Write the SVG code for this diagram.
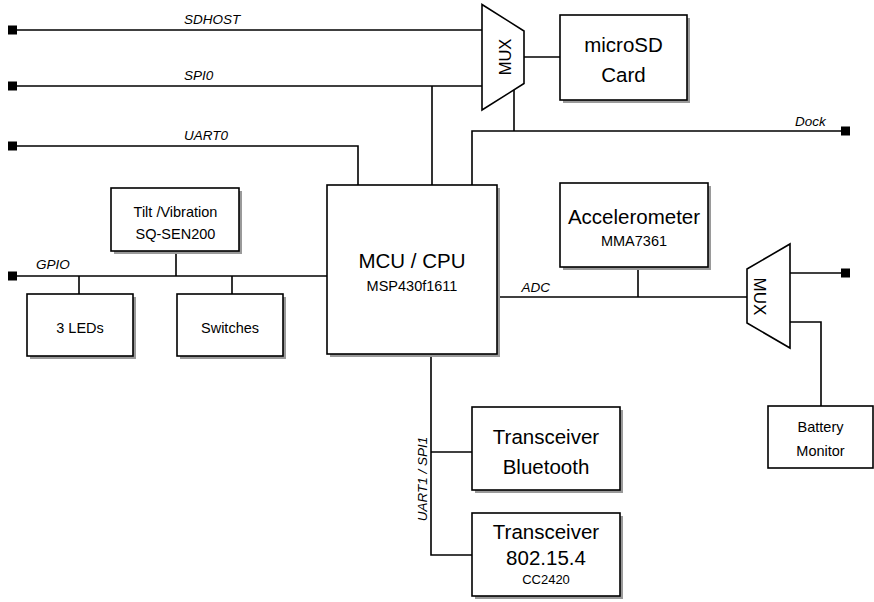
<svg xmlns="http://www.w3.org/2000/svg" width="874" height="602" viewBox="0 0 874 602">
<style>
.box{fill:#fff;stroke:#000;stroke-width:1.6}
.sh{fill:#9a9a9a}
.ln{fill:none;stroke:#000;stroke-width:1.6}
.t{font-family:"Liberation Sans",Arial,sans-serif;fill:#000;text-anchor:middle}
.big{font-size:20.5px}
.mid{font-size:14.5px}
.lbl{font-family:"Liberation Sans",Arial,sans-serif;font-style:italic;font-size:13.5px;fill:#000}
.pin{fill:#000}
</style>
<rect width="874" height="602" fill="#fff"/>
<g id="connectors">
<path class="ln" d="M13,30H482"/>
<path class="ln" d="M13,86H482"/>
<path class="ln" d="M432,86V185"/>
<path class="ln" d="M13,146H358V185"/>
<path class="ln" d="M524,57H560"/>
<path class="ln" d="M514,89V131"/>
<path class="ln" d="M472,185V131H845"/>
<path class="ln" d="M13,276H327"/>
<path class="ln" d="M176,251V276"/>
<path class="ln" d="M79,276V294"/>
<path class="ln" d="M232,276V294"/>
<path class="ln" d="M497,297H747"/>
<path class="ln" d="M638,267V297"/>
<path class="ln" d="M790,273H845"/>
<path class="ln" d="M790,322H821V406"/>
<path class="ln" d="M431,354V555H472"/>
<path class="ln" d="M431,452H472"/>
<rect class="pin" x="8" y="25.5" width="9" height="9"/>
<rect class="pin" x="8" y="81.5" width="9" height="9"/>
<rect class="pin" x="8" y="141.5" width="9" height="9"/>
<rect class="pin" x="8" y="271.5" width="9" height="9"/>
<rect class="pin" x="841" y="126.5" width="9" height="9"/>
<rect class="pin" x="841" y="268.5" width="9" height="9"/>
<text class="lbl" x="184" y="24">SDHOST</text>
<text class="lbl" x="184" y="80">SPI0</text>
<text class="lbl" x="184" y="140">UART0</text>
<text class="lbl" x="795" y="126">Dock</text>
<text class="lbl" x="36" y="269">GPIO</text>
<text class="lbl" x="521.5" y="292">ADC</text>
<text class="lbl" text-anchor="middle" transform="translate(426.5,479) rotate(-90)">UART1 / SPI1</text>
</g>
<g id="mux1">
<path class="box" d="M482,4.5L524,31V83.5L482,110Z"/>
<text class="t" style="font-size:16.5px" transform="translate(511,57) rotate(-90)">MUX</text>
</g>
<g id="microsd">
<rect class="sh" x="563" y="18" width="127" height="85"/>
<rect class="box" x="560" y="15" width="127" height="85"/>
<text class="t big" x="623.5" y="52">microSD</text>
<text class="t big" x="623.5" y="81.5">Card</text>
</g>
<g id="mcu">
<rect class="sh" x="330" y="188" width="170" height="169"/>
<rect class="box" x="327" y="185" width="170" height="169"/>
<text class="t big" x="412" y="267.5">MCU / CPU</text>
<text class="t mid" x="412" y="291">MSP430f1611</text>
</g>
<g id="tilt">
<rect class="sh" x="114" y="191" width="128" height="63"/>
<rect class="box" x="111" y="188" width="128" height="63"/>
<text class="t mid" x="175.5" y="216.5">Tilt /Vibration</text>
<text class="t mid" x="175.5" y="239">SQ-SEN200</text>
</g>
<g id="leds">
<rect class="sh" x="30" y="297" width="106" height="62"/>
<rect class="box" x="27" y="294" width="106" height="62"/>
<text class="t mid" x="80" y="332.5">3 LEDs</text>
</g>
<g id="switches">
<rect class="sh" x="180" y="297" width="106" height="62"/>
<rect class="box" x="177" y="294" width="106" height="62"/>
<text class="t mid" x="230" y="332.5">Switches</text>
</g>
<g id="accel">
<rect class="sh" x="563" y="186" width="148" height="84"/>
<rect class="box" x="560" y="183" width="148" height="84"/>
<text class="t big" x="634" y="224">Accelerometer</text>
<text class="t mid" x="634" y="246">MMA7361</text>
</g>
<g id="mux2">
<path class="box" d="M747,269L790,244V348L747,323Z"/>
<text class="t" style="font-size:17px" transform="translate(754,296.5) rotate(90)">MUX</text>
</g>
<g id="battery">
<rect class="box" x="768" y="406" width="105" height="62"/>
<text class="t mid" x="820.5" y="432">Battery</text>
<text class="t mid" x="820.5" y="455.5">Monitor</text>
</g>
<g id="bluetooth">
<rect class="sh" x="475" y="410" width="148" height="83"/>
<rect class="box" x="472" y="407" width="148" height="83"/>
<text class="t big" x="546" y="444">Transceiver</text>
<text class="t big" x="546" y="474">Bluetooth</text>
</g>
<g id="ieee802154">
<rect class="sh" x="475" y="516" width="148" height="83"/>
<rect class="box" x="472" y="513" width="148" height="83"/>
<text class="t big" x="546" y="539">Transceiver</text>
<text class="t big" x="546" y="565">802.15.4</text>
<text class="t mid" x="546" y="583.5" style="font-size:13px">CC2420</text>
</g>
</svg>
